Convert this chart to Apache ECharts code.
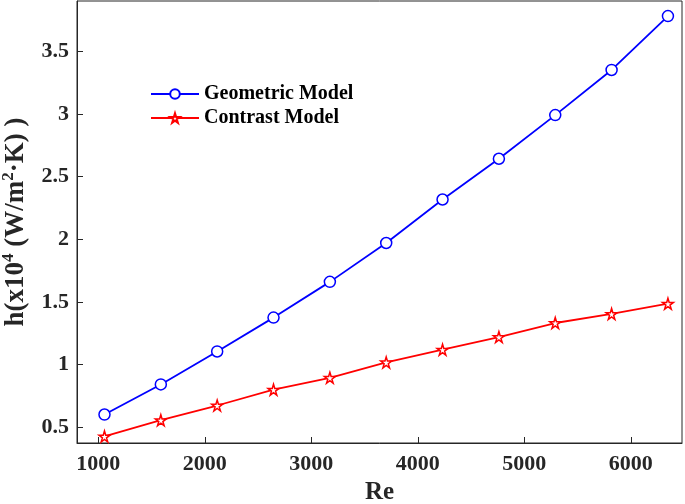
<!DOCTYPE html>
<html>
<head>
<meta charset="utf-8">
<script src="https://cdn.jsdelivr.net/npm/echarts@6/dist/echarts.min.js"></script>
<style>
  html, body { margin: 0; padding: 0; background: #fff; }
  #main { width: 685px; height: 504px; }
</style>
</head>
<body>
<div id="main"></div>
<script>
// Re values (x) and heat transfer coefficient h (x10^4 W/m^2·K)
var reValues = [1058, 1587, 2116, 2645, 3174, 3703, 4232, 4761, 5290, 5819, 6348]
var geometricModel = [0.602, 0.842, 1.105, 1.375, 1.66, 1.97, 2.317, 2.642, 2.99, 3.35, 3.78]
var contrastModel = [0.427, 0.557, 0.674, 0.80, 0.895, 1.018, 1.119, 1.22, 1.332, 1.404, 1.486]

var xTicks = [1000, 2000, 3000, 4000, 5000, 6000]
var yTicks = [0.5, 1, 1.5, 2, 2.5, 3, 3.5]

var FONT = '"Liberation Serif", "Times New Roman", serif'
var STAR = 'path://M50,0 L61,35 L98,35 L68,57 L79,91 L50,70 L21,91 L32,57 L2,35 L39,35 Z'

function pairs(xs, ys) {
  return xs.map(function (x, i) { return [x, ys[i]] })
}

var myChart = echarts.init(document.getElementById('main'))

var option = {
  animation: false,
  backgroundColor: '#fff',
  grid: {
    left: 77,
    right: 3,
    top: 1,
    bottom: 61,
    outerBoundsMode: 'none',
    containLabel: false,
    show: true,
    borderColor: '#262626',
    borderWidth: 1
  },
  legend: {
    orient: 'vertical',
    left: 150,
    top: 84,
    padding: 0,
    itemWidth: 48,
    itemHeight: 12,
    itemGap: 4,
    textStyle: {
      fontFamily: FONT,
      fontWeight: 'bold',
      fontSize: 20,
      color: '#000'
    },
    data: ['Geometric Model', 'Contrast Model']
  },
  xAxis: {
    type: 'value',
    min: 800,
    max: 6480,
    name: 'Re',
    nameLocation: 'middle',
    nameGap: 36,
    nameTextStyle: {
      fontFamily: FONT,
      fontWeight: 'bold',
      fontSize: 25,
      color: '#262626'
    },
    axisLine: { lineStyle: { color: '#262626', width: 1 } },
    axisTick: {
      inside: true,
      length: 6,
      customValues: xTicks,
      lineStyle: { color: '#262626' }
    },
    axisLabel: {
      customValues: xTicks,
      margin: 10,
      formatter: function (v) { return String(v) },
      fontFamily: FONT,
      fontWeight: 'bold',
      fontSize: 22,
      color: '#262626'
    },
    splitLine: { show: false }
  },
  yAxis: {
    type: 'value',
    min: 0.375,
    max: 3.9,
    name: 'h(x10{sup|4} (W/m{sup|2}·K) )',
    nameLocation: 'middle',
    nameGap: 38,
    nameTextStyle: {
      fontFamily: FONT,
      fontWeight: 'bold',
      fontSize: 27,
      lineHeight: 30,
      color: '#262626',
      rich: {
        sup: {
          fontFamily: FONT,
          fontWeight: 'bold',
          fontSize: 17,
          color: '#262626',
          verticalAlign: 'top'
        }
      }
    },
    axisLine: { lineStyle: { color: '#262626', width: 1 } },
    axisTick: {
      inside: true,
      length: 6,
      customValues: yTicks,
      lineStyle: { color: '#262626' }
    },
    axisLabel: {
      customValues: yTicks,
      margin: 8,
      fontFamily: FONT,
      fontWeight: 'bold',
      fontSize: 22,
      color: '#262626'
    },
    splitLine: { show: false }
  },
  series: [
    {
      name: 'Geometric Model',
      type: 'line',
      data: pairs(reValues, geometricModel),
      symbol: 'circle',
      symbolSize: 11,
      lineStyle: { color: '#0000ff', width: 1.8 },
      itemStyle: { color: '#fff', borderColor: '#0000ff', borderWidth: 1.5 }
    },
    {
      name: 'Contrast Model',
      type: 'line',
      data: pairs(reValues, contrastModel),
      symbol: STAR,
      symbolSize: 11,
      lineStyle: { color: '#ff0000', width: 1.8 },
      itemStyle: { color: '#fff', borderColor: '#ff0000', borderWidth: 1.5 }
    }
  ]
}

myChart.setOption(option)
</script>
</body>
</html>
